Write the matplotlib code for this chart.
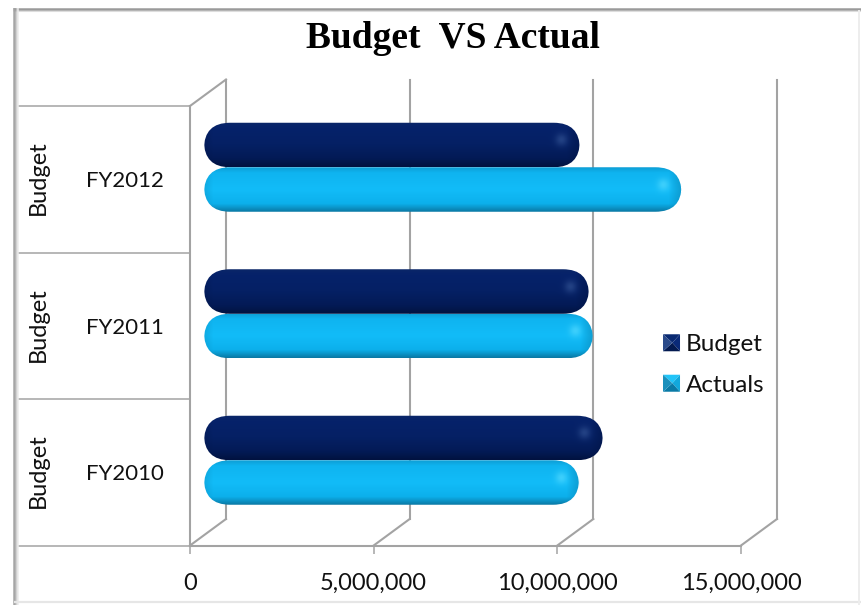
import numpy as np
import matplotlib
matplotlib.use("Agg")
import matplotlib.pyplot as plt
from matplotlib.lines import Line2D
from matplotlib.patches import FancyBboxPatch, Polygon, Patch
from matplotlib.legend_handler import HandlerBase
from matplotlib.transforms import Affine2D, IdentityTransform

plt.rcParams["font.family"] = ["Lato", "DejaVu Sans"]

# Chart values
categories = ["FY2010", "FY2011", "FY2012"]
group_labels = ["Budget", "Budget", "Budget"]
budget = [10860000, 10480000, 10230000]
actuals = [10210000, 10590000, 13000000]
x_ticks = [0, 5000000, 10000000, 15000000]
x_tick_labels = ["0", "5,000,000", "10,000,000", "15,000,000"]
title = "Budget  VS Actual"

W, H = 861, 605
GRID = "#a3a3a3"
NAVY_STOPS = ["#0a2668", "#06226a", "#052064", "#031a55", "#011240"]
CYAN_STOPS = ["#0d9fd6", "#0fb4f0", "#12bcf8", "#0cb0ec", "#0a7aa6"]
NAVY_SPOT = "#2f4f90"
CYAN_SPOT = "#4fd8ff"

fig = plt.figure(figsize=(W / 100, H / 100), dpi=100, facecolor="white")
left, right, top, bottom = 190, 741, 106, 545.5
ax = fig.add_axes([left / W, 1 - bottom / H, (right - left) / W, (bottom - top) / H])
ax.set_xlim(0, 15000000)
ax.set_ylim(0, 3)
ax.patch.set_alpha(0)

x_scale = (right - left) / 15000000
y_scale = (bottom - top) / 3


def frame_line(xs, ys, color, lw=1.0):
    fig.add_artist(Line2D(np.array(xs) / W, 1 - np.array(ys) / H, color=color, lw=lw,
                          transform=fig.transFigure, solid_capstyle="butt"))


# Picture frame round the chart
frame_line([13, W], [9, 9], "#9a9a9a", 1.8)
frame_line([13, W], [11, 11], "#dddddd", 0.8)
for px, shade in zip([13.5, 15, 16.5, 18], ["#a8a8a8", "#a0a0a0", "#c4c4c4", "#ececec"]):
    frame_line([px, px], [8, H], shade, 1.1)
frame_line([14, W], [602, 602], "#e6e6e6", 1.6)
frame_line([858.5, 858.5], [10, H], "#ededed", 1.4)

# Walls and floor of the 3-D box
depth = Affine2D().translate(36, 26.5)
for v in x_ticks:
    ax.plot([v, v], [0, 3], color=GRID, lw=1.5, transform=ax.transData + depth,
            clip_on=False, zorder=1, solid_capstyle="projecting")
for v in x_ticks:
    px, py = ax.transData.transform((v, 0))
    ax.add_line(Line2D([px, px + 36], [py, py + 26.5], color=GRID, lw=1.5,
                       transform=IdentityTransform(), clip_on=False, zorder=1))
px, py = ax.transData.transform((0, 3))
ax.add_line(Line2D([px, px + 36], [py, py + 26.5], color=GRID, lw=1.5,
                   transform=IdentityTransform(), clip_on=False, zorder=1))


def bar_shading(stops, spot, w_px, h_px):
    """RGBA raster for a bar: vertical bevel, darkened cap and a small glint."""
    rgb_stops = np.array([matplotlib.colors.to_rgb(c) for c in stops])
    pos = [0, 0.12, 0.5, 0.82, 1]
    w, h = int(w_px), int(h_px)
    yy = np.linspace(0, 1, h)
    col = np.stack([np.interp(yy, pos, rgb_stops[:, i]) for i in range(3)], axis=1)
    img = np.repeat(col[:, None, :], w, axis=1)
    # Edge falloff towards the rounded ends
    xx = np.arange(w)
    end = np.clip((xx - (w - 14)) / 14, 0, 1)[None, :, None]
    start = np.clip((9 - xx) / 9, 0, 1)[None, :, None]
    dark = np.array(matplotlib.colors.to_rgb(stops[-1]))
    img = img * (1 - 0.5 * end - 0.25 * start) + dark * (0.5 * end + 0.25 * start)
    # Glint near the far end
    X, Y = np.meshgrid(xx, np.arange(h))
    glint = np.exp(-(((X - (w - 19)) / 6.0) ** 2 + ((Y - h * 0.38) / 6.0) ** 2))[..., None]
    return img * (1 - 0.7 * glint) + np.array(matplotlib.colors.to_rgb(spot)) * 0.7 * glint


def rounded_bar(value, y_low, y_high, stops, spot, zorder):
    radius = 26
    tr = ax.transData + Affine2D().translate(14, 12)
    patch = FancyBboxPatch((0, y_low), value, y_high - y_low,
                           boxstyle=f"round,pad=0,rounding_size={radius / x_scale}",
                           mutation_aspect=x_scale / y_scale,
                           transform=tr, facecolor="none", edgecolor="none",
                           clip_on=False, zorder=zorder)
    ax.add_patch(patch)
    img = bar_shading(stops, spot, value * x_scale, (y_high - y_low) * y_scale)
    im = ax.imshow(img, extent=(0, value, y_low, y_high), aspect="auto", origin="upper",
                   zorder=zorder, interpolation="bilinear")
    im.set_transform(tr)
    im.set_clip_path(patch)


half = 44.5 / y_scale
for i, (b, a) in enumerate(zip(budget, actuals)):
    centre = i + 0.5
    rounded_bar(a, centre - half, centre, CYAN_STOPS, CYAN_SPOT, 3)
    rounded_bar(b, centre, centre + half, NAVY_STOPS, NAVY_SPOT, 3)

ax.set_xlim(0, 15000000)
ax.set_ylim(0, 3)

# Axes
for name in ("top", "right"):
    ax.spines[name].set_visible(False)
for name in ("left", "bottom"):
    ax.spines[name].set_color(GRID)
    ax.spines[name].set_linewidth(1.5)
    ax.spines[name].set_zorder(2)

ax.set_xticks(x_ticks, x_tick_labels, fontsize=17, color="#111111")
ax.tick_params(axis="x", length=5.5, width=1.1, color=GRID, pad=14)
ax.set_yticks([0.5, 1.5, 2.5], categories, fontsize=16, color="#111111")
ax.tick_params(axis="y", which="major", length=0, pad=(190 - 164) * 0.72)
ax.set_yticks([0, 1, 2, 3], minor=True)
ax.tick_params(axis="y", which="minor", length=172 * 0.72, width=1.1, color=GRID)

# Outer grouping label beside each year
for i, lab in enumerate(group_labels):
    ax.text((38 - left) / (right - left), i + 0.5 + 0.01, lab, transform=ax.get_yaxis_transform(),
            rotation=90, ha="center", va="center", fontsize=17, color="#111111")

fig.text(453 / W, 1 - 38 / H, title, ha="center", va="center", fontsize=27,
         fontweight="bold", family="Liberation Serif", color="#000000")


class PyramidSwatch(HandlerBase):
    """Square legend key with four shaded faces."""

    def __init__(self, shades):
        super().__init__()
        self.shades = shades

    def create_artists(self, legend, orig_handle, xdescent, ydescent, width, height, fontsize, trans):
        s = height * 1.0
        x0, y0 = -xdescent, -ydescent + (height - s) / 2
        x1, y1 = x0 + s, y0 + s
        mx, my = x0 + s * 0.55, y0 + s / 2
        corners = [((x0, y1), (x1, y1)), ((x1, y1), (x1, y0)), ((x1, y0), (x0, y0)), ((x0, y0), (x0, y1))]
        arts = []
        for (p, q), shade in zip(corners, self.shades):
            arts.append(Polygon([p, q, (mx, my)], closed=True, facecolor=shade, edgecolor="none",
                                transform=trans))
        return arts


budget_key = Patch(label="Budget")
actuals_key = Patch(label="Actuals")
fig.legend(handles=[budget_key, actuals_key], loc="center left",
           bbox_to_anchor=(663 / W, 1 - 365 / H), frameon=False, fontsize=17.5,
           labelspacing=0.8, handlelength=0.7, handleheight=0.7, handletextpad=0.25,
           labelcolor="#111111", borderpad=0, borderaxespad=0,
           handler_map={budget_key: PyramidSwatch(["#0a2a72", "#0a2a78", "#031a50", "#2a4a8a"]),
                        actuals_key: PyramidSwatch(["#22c4f8", "#12a8dc", "#0a7aa6", "#1b90bc"])})

fig.savefig("out.png", dpi=100, facecolor="white")
